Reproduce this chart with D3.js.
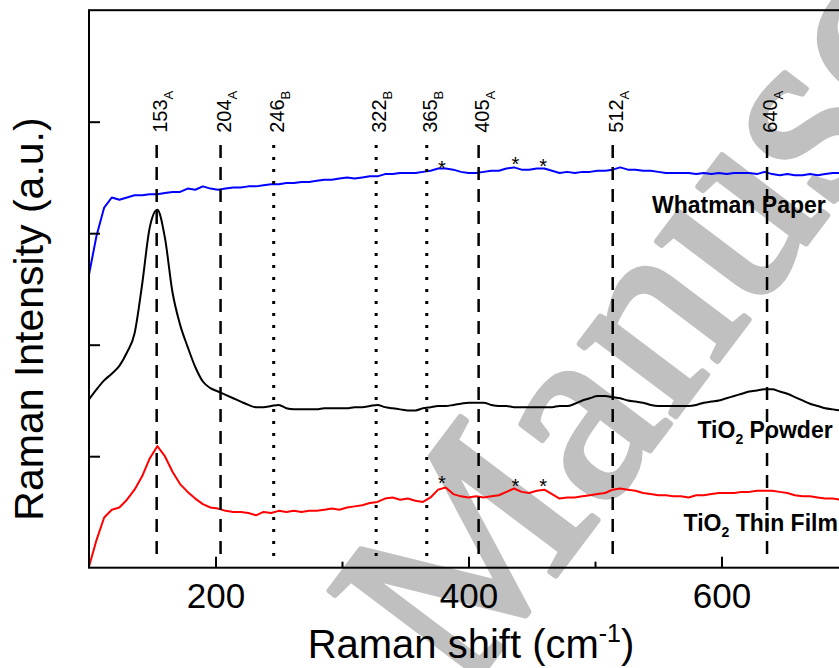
<!doctype html>
<html lang='en'>

<head>
    <meta charset='utf-8'>
    <title>Raman spectra</title>
    <script src='https://cdn.jsdelivr.net/npm/d3@7/dist/d3.min.js'></script>
    <style>
        body {
            margin: 0;
            background-color: white;
        }

        svg {
            display: block;
            font-family: 'Liberation Sans', Arial, sans-serif;
        }

        .frame {
            fill: none;
            stroke: black;
            stroke-width: 2px;
        }

        .spectrum {
            fill: none;
            stroke-width: 2px;
            stroke-linejoin: round;
        }

        .series-label {
            font-weight: bold;
            font-size: 23px;
        }
    </style>
</head>

<body>
<svg id='chart' width='839' height='668'></svg>

<script>
    // Raman shift (cm-1) sampled along the spectra
    const shift = [100, 106, 112, 118, 124, 130, 136, 142, 148, 154,
        160, 166, 172, 178, 184, 190, 196, 202, 208, 214,
        220, 226, 232, 238, 244, 250, 256, 262, 268, 274,
        280, 286, 292, 298, 304, 310, 316, 322, 328, 334,
        340, 346, 352, 358, 364, 370, 376, 382, 388, 394,
        400, 406, 412, 418, 424, 430, 436, 442, 448, 454,
        460, 466, 472, 478, 484, 490, 496, 502, 508, 514,
        520, 526, 532, 538, 544, 550, 556, 562, 568, 574,
        580, 586, 592, 598, 604, 610, 616, 622, 628, 634,
        640, 646, 652, 658, 664, 670, 676, 682, 688, 694];

    // offset intensities (a.u.)
    const whatman = [2.63, 2.98, 3.23, 3.32, 3.30, 3.32, 3.34, 3.34, 3.35, 3.35,
        3.36, 3.37, 3.37, 3.40, 3.39, 3.42, 3.40, 3.39, 3.40, 3.41,
        3.41, 3.42, 3.42, 3.43, 3.44, 3.44, 3.45, 3.45, 3.46, 3.46,
        3.47, 3.48, 3.48, 3.49, 3.50, 3.49, 3.50, 3.51, 3.51, 3.53,
        3.53, 3.54, 3.54, 3.54, 3.55, 3.56, 3.58, 3.58, 3.57, 3.55,
        3.54, 3.54, 3.55, 3.56, 3.56, 3.58, 3.59, 3.57, 3.57, 3.58,
        3.58, 3.56, 3.54, 3.55, 3.54, 3.55, 3.55, 3.56, 3.56, 3.57,
        3.59, 3.57, 3.57, 3.56, 3.56, 3.55, 3.54, 3.54, 3.54, 3.54,
        3.53, 3.54, 3.53, 3.54, 3.53, 3.54, 3.54, 3.54, 3.53, 3.55,
        3.53, 3.52, 3.53, 3.52, 3.52, 3.53, 3.52, 3.53, 3.54, 3.54];

    const powder = [1.51, 1.60, 1.68, 1.74, 1.81, 1.93, 2.10, 2.54, 3.05, 3.21,
        2.96, 2.47, 2.18, 1.98, 1.80, 1.67, 1.61, 1.58, 1.55, 1.52,
        1.49, 1.46, 1.44, 1.44, 1.45, 1.46, 1.43, 1.42, 1.42, 1.42,
        1.42, 1.43, 1.43, 1.43, 1.43, 1.44, 1.44, 1.45, 1.46, 1.44,
        1.43, 1.42, 1.41, 1.41, 1.43, 1.44, 1.45, 1.45, 1.46, 1.47,
        1.48, 1.48, 1.48, 1.46, 1.45, 1.45, 1.44, 1.44, 1.44, 1.44,
        1.44, 1.44, 1.45, 1.45, 1.47, 1.50, 1.52, 1.54, 1.54, 1.53,
        1.52, 1.50, 1.49, 1.48, 1.46, 1.45, 1.45, 1.45, 1.45, 1.45,
        1.46, 1.48, 1.49, 1.50, 1.52, 1.54, 1.56, 1.58, 1.59, 1.60,
        1.60, 1.58, 1.56, 1.53, 1.50, 1.47, 1.45, 1.43, 1.42, 1.41];

    const film = [0.01, 0.25, 0.45, 0.52, 0.54, 0.61, 0.70, 0.82, 0.98, 1.09,
        1.00, 0.86, 0.75, 0.68, 0.62, 0.57, 0.54, 0.53, 0.51, 0.50,
        0.50, 0.49, 0.47, 0.50, 0.49, 0.51, 0.50, 0.51, 0.50, 0.51,
        0.51, 0.52, 0.53, 0.52, 0.54, 0.55, 0.56, 0.58, 0.59, 0.62,
        0.63, 0.61, 0.62, 0.60, 0.59, 0.63, 0.70, 0.72, 0.66, 0.64,
        0.63, 0.64, 0.63, 0.64, 0.65, 0.68, 0.71, 0.68, 0.67, 0.69,
        0.70, 0.66, 0.62, 0.63, 0.63, 0.64, 0.65, 0.66, 0.67, 0.70,
        0.71, 0.70, 0.69, 0.67, 0.66, 0.65, 0.65, 0.64, 0.64, 0.63,
        0.65, 0.65, 0.66, 0.67, 0.67, 0.67, 0.68, 0.68, 0.69, 0.69,
        0.69, 0.68, 0.67, 0.65, 0.64, 0.64, 0.63, 0.62, 0.62, 0.61];

    // assigned modes: A = anatase, B = brookite
    const peakLabels = ['153', '204', '246', '322', '365', '405', '512', '640'];
    const peakPhases = ['A', 'A', 'B', 'B', 'B', 'A', 'A', 'A'];
    const peakShifts = [153.5, 204, 246, 327, 367, 408, 514, 636];

    // substrate bands marked with *
    const starShifts = [379, 437, 459];
    const starWhatman = [3.63, 3.66, 3.64];
    const starFilm = [0.80, 0.77, 0.77];

    const seriesNames = ['Whatman Paper', 'TiO2 Powder', 'TiO2 Thin Film'];
    const seriesColors = ['#0000ff', '#000000', '#ff0000'];
    const nameShifts = [545, 581, 570];
    const nameLevels = [3.18, 1.16, 0.33];

    const xTicks = [200, 400, 600, 800];
    const xMinorTicks = [300, 500, 700];
    const yTicks = [1, 2, 3, 4];

    const svg = d3.select('#chart');
    const x = d3.scaleLinear().domain([100, 800]).range([89, 974.5]);
    const y = d3.scaleLinear().domain([0, 5]).range([567.7, 10.2]);

    // grey watermark behind the plot
    svg.append('text')
        .attr('transform', 'translate(462,700) rotate(-53)')
        .style('font-family', "'Liberation Serif', 'DejaVu Serif', serif")
        .style('font-size', '262px')
        .style('fill', '#c0c0c0')
        .style('stroke', '#c0c0c0')
        .style('stroke-width', '6px')
        .style('stroke-linejoin', 'round')
        .text('Manuscript');

    const spectra = [whatman, powder, film];
    spectra.forEach((values, i) => {
        const line = d3.line()
            .x((d, j) => x(shift[j]))
            .y(d => y(d))
            .curve(i === 1 ? d3.curveMonotoneX : d3.curveLinear);
        svg.append('path')
            .datum(values)
            .attr('class', 'spectrum')
            .attr('stroke', seriesColors[i])
            .attr('d', line);
    });

    const peaks = peakLabels.map((label, i) => ({label: label, phase: peakPhases[i], pos: peakShifts[i]}));

    svg.append('g')
        .selectAll('line')
        .data(peaks)
        .join('line')
        .attr('x1', d => x(d.pos))
        .attr('x2', d => x(d.pos))
        .attr('y1', y(3.79))
        .attr('y2', y(0.10))
        .attr('stroke', 'black')
        .attr('stroke-width', d => d.phase === 'A' ? 2.5 : 3)
        .attr('stroke-dasharray', d => d.phase === 'A' ? '13,9' : '3,9');

    const peakText = svg.append('g')
        .selectAll('text')
        .data(peaks)
        .join('text')
        .attr('transform', d => `translate(${x(d.pos) + 10},${y(3.9)}) rotate(-90)`)
        .style('font-size', '20px');
    peakText.append('tspan').text(d => d.label);
    peakText.append('tspan').attr('dy', 6).style('font-size', '13px').text(d => d.phase);

    // asterisks
    [starWhatman, starFilm].forEach(levels => {
        svg.append('g')
            .selectAll('text')
            .data(starShifts)
            .join('text')
            .attr('x', d => x(d))
            .attr('y', (d, i) => y(levels[i]))
            .attr('dy', '0.58em')
            .attr('text-anchor', 'middle')
            .style('font-size', '20px')
            .text('*');
    });

    // curve names, with subscript in TiO2
    seriesNames.forEach((name, i) => {
        const t = svg.append('text')
            .attr('class', 'series-label')
            .attr('x', x(nameShifts[i]))
            .attr('y', y(nameLevels[i]));
        const m = name.match(/^(TiO)(2)(.*)$/);
        if (m) {
            t.append('tspan').text(m[1]);
            t.append('tspan').attr('dy', 6).style('font-size', '14px').text(m[2]);
            t.append('tspan').attr('dy', -6).text(m[3]);
        } else {
            t.text(name);
        }
    });

    // axes, ticks pointing inwards
    svg.append('g')
        .attr('transform', `translate(0,${y(0)})`)
        .call(d3.axisBottom(x).tickValues(xTicks).tickSize(-11).tickSizeOuter(0).tickPadding(15))
        .attr('font-family', "'Liberation Sans', Arial, sans-serif")
        .attr('font-size', 35)
        .call(g => g.select('.domain').remove())
        .call(g => g.selectAll('line').attr('stroke-width', 2));

    svg.append('g')
        .attr('transform', `translate(0,${y(0)})`)
        .call(d3.axisBottom(x).tickValues(xMinorTicks).tickSize(-6).tickSizeOuter(0).tickFormat(''))
        .call(g => g.select('.domain').remove())
        .call(g => g.selectAll('line').attr('stroke-width', 2));

    svg.append('g')
        .attr('transform', `translate(${x(100)},0)`)
        .call(d3.axisLeft(y).tickValues(yTicks).tickSize(-11).tickSizeOuter(0).tickFormat(''))
        .call(g => g.select('.domain').remove())
        .call(g => g.selectAll('line').attr('stroke-width', 2));

    svg.append('rect')
        .attr('class', 'frame')
        .attr('x', x(100))
        .attr('y', y(5))
        .attr('width', x(800) - x(100))
        .attr('height', y(0) - y(5));

    svg.append('text')
        .attr('transform', 'translate(43,319) rotate(-90)')
        .attr('text-anchor', 'middle')
        .style('font-size', '41px')
        .text('Raman Intensity (a.u.)');

    const xTitle = svg.append('text')
        .attr('x', 471)
        .attr('y', 658)
        .attr('text-anchor', 'middle')
        .style('font-size', '40px');
    xTitle.append('tspan').text('Raman shift (cm');
    xTitle.append('tspan').attr('dy', -16).style('font-size', '25px').text('-1');
    xTitle.append('tspan').attr('dy', 16).text(')');
</script>
</body>

</html>
